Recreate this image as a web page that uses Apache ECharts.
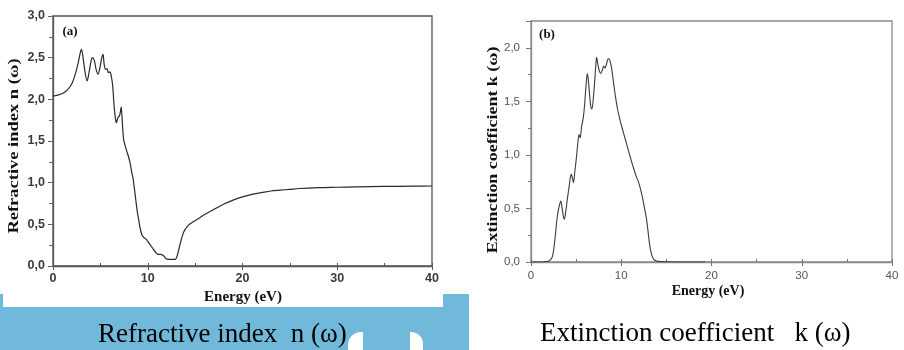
<!DOCTYPE html>
<html>
<head>
<meta charset="utf-8">
<script src="https://cdn.jsdelivr.net/npm/echarts@6/dist/echarts.min.js"></script>
<style>
html,body{margin:0;padding:0;background:#fff;}
#chart{width:904px;height:350px;}
</style>
</head>
<body>
<div id="chart"></div>
<script>
// Refractive index n(ω) vs energy
const nEnergy = [0,0.5,1.0,1.5,2.0,2.4,2.7,2.9,3.0,3.15,3.35,3.6,3.8,4.0,4.15,4.35,4.55,4.75,4.95,5.15,5.28,5.4,5.55,5.7,5.85,6.0,6.15,6.3,6.45,6.6,6.7,6.85,7.0,7.1,7.2,7.3,7.45,7.6,7.75,7.95,8.15,8.3,8.45,8.6,8.75,8.9,9.05,9.2,9.4,9.6,9.85,10.1,10.35,10.6,10.85,11.1,11.4,11.7,11.9,12.2,12.6,12.9,13.1,13.3,13.5,13.7,13.9,14.3,14.8,15.5,16.2,17,18,19,20,21,22,23,24,25,26,28,30,32,35,38,40];
const nValues = [2.04,2.05,2.07,2.11,2.19,2.32,2.46,2.57,2.60,2.52,2.35,2.22,2.32,2.45,2.50,2.47,2.36,2.30,2.38,2.50,2.54,2.42,2.36,2.37,2.32,2.33,2.28,2.16,1.92,1.76,1.72,1.78,1.80,1.84,1.91,1.75,1.52,1.45,1.39,1.32,1.23,1.13,1.05,0.92,0.78,0.65,0.55,0.45,0.37,0.34,0.32,0.28,0.24,0.20,0.16,0.14,0.14,0.12,0.09,0.08,0.08,0.08,0.12,0.21,0.30,0.38,0.43,0.49,0.53,0.58,0.63,0.68,0.74,0.79,0.83,0.86,0.88,0.90,0.91,0.92,0.93,0.94,0.945,0.95,0.955,0.958,0.96];
// Extinction coefficient k(ω) vs energy
const kEnergy = [0,1,1.5,1.9,2.2,2.4,2.55,2.7,2.85,3.0,3.15,3.3,3.45,3.6,3.7,3.85,4.05,4.25,4.45,4.6,4.7,4.85,5.05,5.2,5.32,5.45,5.6,5.8,5.95,6.1,6.24,6.35,6.5,6.65,6.75,6.9,7.05,7.2,7.27,7.4,7.55,7.72,7.9,8.05,8.2,8.4,8.57,8.75,8.95,9.15,9.35,9.56,9.85,10.2,10.6,11.0,11.35,11.7,11.9,12.2,12.45,12.65,12.8,12.95,13.1,13.25,13.4,13.6,13.9,14.3,15,17,19.3];
const kValues = [0,0,0.002,0.008,0.025,0.06,0.14,0.25,0.38,0.47,0.53,0.57,0.50,0.42,0.40,0.47,0.60,0.72,0.82,0.78,0.74,0.84,0.99,1.12,1.19,1.16,1.26,1.35,1.48,1.65,1.76,1.70,1.55,1.44,1.43,1.52,1.68,1.86,1.91,1.85,1.79,1.76,1.79,1.83,1.81,1.86,1.90,1.88,1.80,1.67,1.55,1.44,1.33,1.22,1.10,0.98,0.88,0.79,0.75,0.66,0.56,0.47,0.40,0.30,0.19,0.11,0.06,0.025,0.01,0.004,0.002,0,0];
// Texts
const panelLabels = ['(a)', '(b)'];
const yNames = ['Refractive index n (\u03c9)', 'Extinction coefficient k (\u03c9)'];
const xName = 'Energy (eV)';
const captions = ['Refractive index  n (\u03c9)', 'Extinction coefficient   k (\u03c9)'];

const comma = v => v.toFixed(1).replace('.', ',');
const nData = nEnergy.map((e, i) => [e, nValues[i]]);
const kData = kEnergy.map((e, i) => [e, kValues[i]]);

const leftLabel = {fontFamily: 'Liberation Sans', fontWeight: 'bold', fontSize: 12.5, color: '#3a3a3a'};
const rightLabel = {fontFamily: 'Liberation Sans', fontWeight: 'normal', fontSize: 11.5, color: '#555'};

const chart = echarts.init(document.getElementById('chart'), null, {renderer: 'canvas'});
chart.setOption({
  animation: false,
  backgroundColor: '#fff',
  grid: [
    {left: 53, top: 16, width: 379, height: 250, show: true, borderColor: '#555', borderWidth: 1.3, backgroundColor: 'transparent'},
    {left: 531, top: 21, width: 361, height: 241, show: true, borderColor: '#8a8a8a', borderWidth: 1.3, backgroundColor: 'transparent'}
  ],
  xAxis: [
    {gridIndex: 0, type: 'value', min: 0, max: 40, interval: 10, position: 'bottom',
     axisLine: {lineStyle: {color: '#555', width: 1.3}}, axisTick: {inside: false, length: 4, lineStyle: {color: '#555'}},
     axisLabel: Object.assign({margin: 6}, leftLabel), splitLine: {show: false}},
    {gridIndex: 0, type: 'value', min: 0, max: 40, interval: 5, position: 'bottom',
     axisLine: {show: false}, axisTick: {inside: true, length: 3, lineStyle: {color: '#555'}},
     axisLabel: {show: false}, splitLine: {show: false}},
    {gridIndex: 1, type: 'value', min: 0, max: 40, interval: 10, position: 'bottom',
     axisLine: {lineStyle: {color: '#8a8a8a', width: 1.3}}, axisTick: {inside: false, length: 4, lineStyle: {color: '#777'}},
     axisLabel: Object.assign({margin: 8}, rightLabel), splitLine: {show: false}},
    {gridIndex: 1, type: 'value', min: 0, max: 40, interval: 5, position: 'bottom',
     axisLine: {show: false}, axisTick: {inside: true, length: 3, lineStyle: {color: '#777'}},
     axisLabel: {show: false}, splitLine: {show: false}}
  ],
  yAxis: [
    {gridIndex: 0, type: 'value', min: 0, max: 3, interval: 0.5, position: 'left',
     axisLine: {show: true, lineStyle: {color: '#555', width: 1.3}}, axisTick: {show: true, inside: false, length: 5, lineStyle: {color: '#555'}},
     minorTick: {show: true, splitNumber: 2, length: 3, lineStyle: {color: '#555'}},
     axisLabel: Object.assign({margin: 8, formatter: comma}, leftLabel), splitLine: {show: false}},
    {gridIndex: 0, type: 'value', min: 0, max: 3, interval: 0.25, position: 'right',
     axisLine: {show: false}, axisTick: {show: true, inside: true, length: 4, lineStyle: {color: '#666'}},
     axisLabel: {show: false}, splitLine: {show: false}},
    {gridIndex: 1, type: 'value', min: 0, max: 2.25, interval: 0.5, position: 'left',
     axisLine: {show: true, lineStyle: {color: '#8a8a8a', width: 1.3}}, axisTick: {show: true, inside: false, length: 5, lineStyle: {color: '#777'}},
     minorTick: {show: true, splitNumber: 2, length: 3, lineStyle: {color: '#777'}},
     axisLabel: Object.assign({margin: 11, showMaxLabel: false, formatter: v => (Math.abs(v * 2 - Math.round(v * 2)) < 1e-6 ? comma(v) : '')}, rightLabel), splitLine: {show: false}}
  ],
  series: [
    {type: 'line', xAxisIndex: 0, yAxisIndex: 0, data: nData, showSymbol: false, symbol: 'none', smooth: 0.3,
     lineStyle: {color: '#2a2a2a', width: 1.2}},
    {type: 'line', xAxisIndex: 2, yAxisIndex: 2, data: kData, showSymbol: false, symbol: 'none', smooth: 0.3,
     lineStyle: {color: '#3a3a3a', width: 1.1}}
  ],
  graphic: [
    {type: 'rect', z: 0, shape: {x: 0, y: 294, width: 469, height: 56}, style: {fill: '#70b9da'}},
    {type: 'rect', z: 1, shape: {x: 3, y: 285, width: 440, height: 22}, style: {fill: '#ffffff'}},
    {type: 'rect', z: 1, shape: {x: 348, y: 332, width: 15, height: 18, r: [13, 0, 0, 0]}, style: {fill: '#ffffff'}},
    {type: 'rect', z: 1, shape: {x: 410, y: 332, width: 13, height: 18, r: [0, 12, 0, 0]}, style: {fill: '#ffffff'}},
    {type: 'text', z: 10, x: 70, y: 32, style: {text: panelLabels[0], font: 'bold 13px "Liberation Serif"', fill: '#111', align: 'center', verticalAlign: 'middle'}},
    {type: 'text', z: 10, x: 547, y: 35, style: {text: panelLabels[1], font: 'bold 13px "Liberation Serif"', fill: '#111', align: 'center', verticalAlign: 'middle'}},
    {type: 'text', z: 10, x: 14.5, y: 146, rotation: Math.PI / 2, scaleX: 1.32, style: {text: yNames[0], font: 'bold 14px "Liberation Serif"', fill: '#111', align: 'center', verticalAlign: 'middle'}},
    {type: 'text', z: 10, x: 493, y: 150, rotation: Math.PI / 2, scaleX: 1.28, style: {text: yNames[1], font: 'bold 14px "Liberation Serif"', fill: '#111', align: 'center', verticalAlign: 'middle'}},
    {type: 'text', z: 10, x: 243, y: 297, style: {text: xName, font: 'bold 15px "Liberation Serif"', fill: '#111', align: 'center', verticalAlign: 'middle'}},
    {type: 'text', z: 10, x: 708, y: 291, style: {text: xName, font: 'bold 14px "Liberation Serif"', fill: '#111', align: 'center', verticalAlign: 'middle'}},
    {type: 'text', z: 10, x: 98, y: 335, style: {text: captions[0], font: '27px "Liberation Serif"', fill: '#000', align: 'left', verticalAlign: 'middle'}},
    {type: 'text', z: 10, x: 540, y: 334, style: {text: captions[1], font: '27px "Liberation Serif"', fill: '#000', align: 'left', verticalAlign: 'middle'}}
  ]
});
</script>
</body>
</html>
